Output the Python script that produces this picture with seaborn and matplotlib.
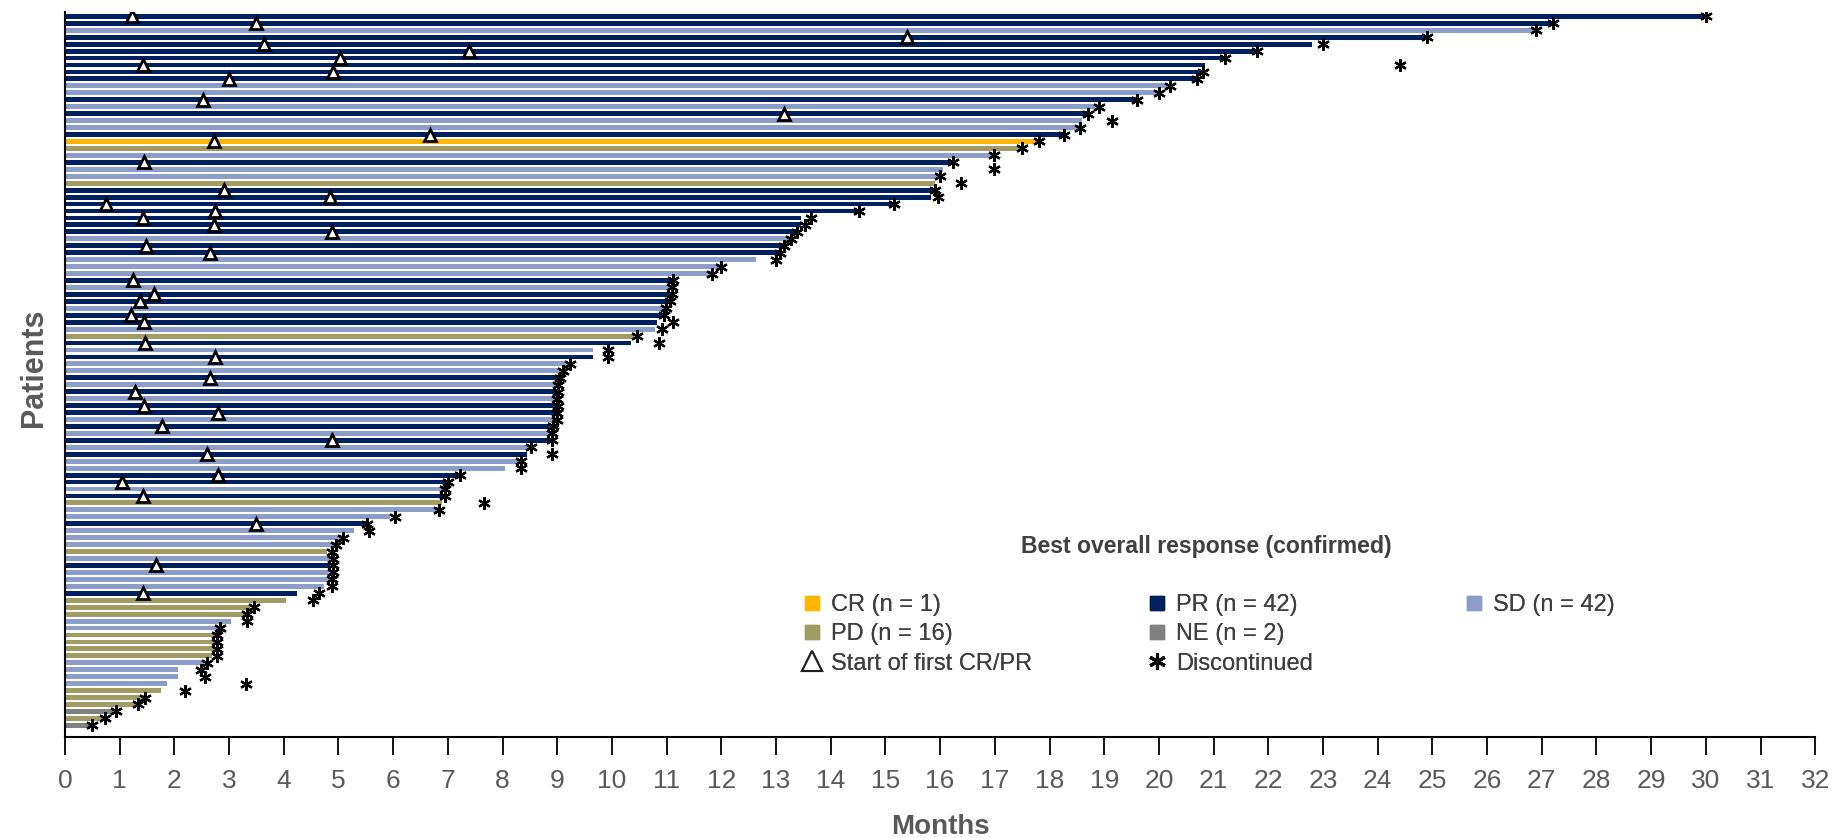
#!/usr/bin/env python3
"""Swimmer plot: duration of treatment per patient, coloured by best overall response."""

import pandas as pd
import seaborn as sns
import matplotlib.pyplot as plt
from matplotlib.lines import Line2D

# --- data, one entry per patient, top to bottom ---
responses = [
    "PR", "PR", "SD", "PR", "PR", "PR", "PR", "PR", "PR", "PR",
    "SD", "SD", "PR", "SD", "PR", "SD", "SD", "PR", "CR", "PD",
    "SD", "PR", "SD", "SD", "PD", "PR", "PR", "PR", "PR", "PR",
    "PR", "PR", "SD", "PR", "PR", "SD", "SD", "SD", "PR", "SD",
    "PR", "PR", "SD", "PR", "PR", "SD", "PD", "PR", "SD", "PR",
    "SD", "SD", "PR", "SD", "PR", "SD", "PR", "PR", "SD", "PR",
    "SD", "PR", "SD", "PR", "SD", "SD", "PR", "PR", "SD", "PR",
    "PD", "SD", "SD", "PR", "SD", "SD", "SD", "PD", "SD", "PR",
    "SD", "SD", "SD", "PR", "PD", "PD", "PD", "SD", "SD", "PD",
    "PD", "PD", "PD", "SD", "SD", "SD", "SD", "PD", "PD", "PD",
    "NE", "PD", "NE",
]

months = [
    30.0, 27.2, 26.9, 24.9, 22.8, 21.8, 21.2, 20.85, 20.77, 20.7,
    20.17, 20.0, 19.6, 18.9, 18.7, 18.6, 18.55, 18.26, 17.79, 17.5,
    16.95, 16.19, 16.05, 16.0, 15.9, 15.87, 15.83, 15.15, 14.5, 13.45,
    13.45, 13.38, 13.27, 13.14, 13.07, 12.63, 11.98, 11.83, 11.11, 11.09,
    11.07, 11.07, 10.99, 10.93, 10.83, 10.78, 10.41, 10.34, 9.65, 9.65,
    9.2, 9.05, 9.05, 9.0, 9.0, 8.98, 9.0, 8.98, 8.98, 8.92,
    8.91, 8.91, 8.49, 8.45, 8.31, 8.05, 7.21, 7.0, 6.95, 6.95,
    6.89, 6.84, 5.95, 5.53, 5.29, 5.06, 4.95, 4.8, 4.85, 4.85,
    4.88, 4.86, 4.74, 4.25, 4.04, 3.38, 3.33, 3.04, 2.8, 2.75,
    2.75, 2.75, 2.68, 2.54, 2.07, 2.07, 1.86, 1.75, 1.44, 1.33,
    0.91, 0.70, 0.49,
]

# start of first CR/PR (None = no response)
first_response = [
    1.22, 3.49, None, 15.4, 3.64, 7.39, 5.02, 1.42, 4.90, 3.0,
    None, None, 2.53, None, 13.15, None, None, 6.68, 2.72, None,
    None, 1.44, None, None, None, 2.91, 4.84, 0.75, 2.75, 1.42,
    2.72, 4.88, None, 1.48, 2.65, None, None, None, 1.24, None,
    1.63, 1.37, None, 1.21, 1.44, None, None, 1.46, None, 2.75,
    None, None, 2.65, None, 1.28, None, 1.44, 2.80, None, 1.78,
    None, 4.88, None, 2.59, None, None, 2.80, 1.04, None, 1.42,
    None, None, None, 3.49, None, None, None, None, None, 1.67,
    None, None, None, 1.42, None, None, None, None, None, None,
    None, None, None, None, None, None, None, None, None, None,
    None, None, None,
]

discontinued = [
    30.0, 27.2, 26.9, 24.9, 23.0, 21.8, 21.2, 24.4, 20.8, 20.7,
    20.2, 20.0, 19.6, 18.9, 18.7, 19.15, 18.55, 18.26, 17.8, 17.5,
    16.98, 16.24, 16.99, 16.0, 16.39, 15.9, 15.96, 15.16, 14.51, 13.64,
    13.53, 13.38, 13.27, 13.14, 13.07, 13.0, 12.0, 11.83, 11.11, 11.09,
    11.09, 11.07, 10.99, 10.95, 11.11, 10.91, 10.46, 10.86, 9.92, 9.92,
    9.23, 9.1, 9.05, 9.01, 9.01, 8.99, 9.01, 8.99, 8.99, 8.92,
    8.91, 8.91, 8.52, 8.91, 8.33, 8.33, 7.23, 7.0, 6.95, 6.95,
    7.66, 6.84, 6.03, 5.53, 5.56, 5.09, 4.95, 4.88, 4.9, 4.9,
    4.9, 4.88, 4.88, 4.64, 4.53, 3.46, 3.33, 3.33, 2.83, 2.78,
    2.78, 2.78, 2.78, 2.59, 2.49, 2.56, 3.31, 2.19, 1.46, 1.33,
    0.94, 0.73, 0.49,
]

categories = ["CR", "PR", "SD", "PD", "NE"]
counts = {"CR": 1, "PR": 42, "SD": 42, "PD": 16, "NE": 2}
x_ticks = list(range(0, 33))

COLORS = {
    "CR": "#FFB600",
    "PR": "#002060",
    "SD": "#8C9DC9",
    "PD": "#A09C63",
    "NE": "#808080",
}
TEXT_GRAY = "#595959"
LEGEND_GRAY = "#3F3F3F"

sns.set_theme(style="white")
plt.rcParams["font.family"] = ["Liberation Sans", "DejaVu Sans"]


def main():
    patients = [f"P{i:03d}" for i in range(1, len(months) + 1)]
    df = pd.DataFrame({"patient": patients, "months": months, "response": responses})

    fig = plt.figure(figsize=(18.34, 8.38), dpi=100)
    ax = fig.add_axes([0.0354, 0.1205, 0.9544, 0.8652])

    sns.barplot(
        data=df,
        x="months",
        y="patient",
        hue="response",
        order=patients,
        hue_order=categories,
        palette=COLORS,
        dodge=False,
        width=0.7,
        saturation=1,
        linewidth=0,
        legend=False,
        ax=ax,
    )

    # start of first CR/PR
    tri = [(x, i) for i, x in enumerate(first_response) if x is not None]
    ax.plot([t[0] for t in tri], [t[1] for t in tri], linestyle="none",
            marker="^", markersize=8.5, markerfacecolor="white",
            markeredgecolor="black", markeredgewidth=2.0, zorder=4)

    # discontinued
    ax.plot(discontinued, list(range(len(discontinued))), linestyle="none",
            marker=(6, 2, 0), markersize=9, markeredgecolor="black",
            markeredgewidth=1.6, color="black", zorder=5)

    ax.set_xlim(0, 32)
    ax.set_ylim(len(months) - 1 + 1.68, -0.63)
    ax.set_xticks(x_ticks)
    ax.set_xticklabels([str(t) for t in x_ticks],
                       family=["Liberation Sans Narrow", "Liberation Sans"])
    ax.set_yticks([])

    ax.tick_params(axis="x", direction="out", length=12.7, width=1.3,
                   color="black", pad=10.5, labelsize=19, labelcolor=TEXT_GRAY,
                   bottom=True)
    for side in ["top", "right"]:
        ax.spines[side].set_visible(False)
    for side in ["left", "bottom"]:
        ax.spines[side].set_color("black")
        ax.spines[side].set_linewidth(1.5)

    ax.set_xlabel("Months", fontsize=20, fontweight="bold", color=TEXT_GRAY, labelpad=15)
    ax.set_ylabel("Patients", fontsize=22, fontweight="bold", color=TEXT_GRAY)
    ax.yaxis.set_label_coords(-0.0091, 0.509)

    # legend title
    fig.text(0.658, 0.3484, "Best overall response (confirmed)", ha="center", va="center",
             fontsize=16.6, fontweight="bold", color=LEGEND_GRAY)

    def square(cat):
        return Line2D([], [], linestyle="none", marker="s", markersize=10,
                      markerfacecolor=COLORS[cat], markeredgecolor=COLORS[cat])

    tri_handle = Line2D([], [], linestyle="none", marker="^", markersize=15,
                        markerfacecolor="white", markeredgecolor="#222222",
                        markeredgewidth=1.5)
    ast_handle = Line2D([], [], linestyle="none", marker=(6, 2, 0), markersize=12,
                        markeredgecolor="black", markeredgewidth=2.2)

    columns = [
        (0.4381, [square("CR"), square("PD"), tri_handle],
         [f"CR (n = {counts['CR']})", f"PD (n = {counts['PD']})", "Start of first CR/PR"]),
        (0.6266, [square("PR"), square("NE"), ast_handle],
         [f"PR (n = {counts['PR']})", f"NE (n = {counts['NE']})", "Discontinued"]),
        (0.7990, [square("SD")], [f"SD (n = {counts['SD']})"]),
    ]
    for x0, handles, labels in columns:
        leg = fig.legend(handles, labels, loc="upper left", bbox_to_anchor=(x0, 0.2907),
                         bbox_transform=fig.transFigure, frameon=False, fontsize=17,
                         borderpad=0, borderaxespad=0, handlelength=0.7,
                         handletextpad=0.45, labelspacing=0.3, labelcolor=LEGEND_GRAY)
        fig.add_artist(leg)

    fig.savefig("out.png", dpi=100)
    plt.close(fig)


if __name__ == "__main__":
    main()
